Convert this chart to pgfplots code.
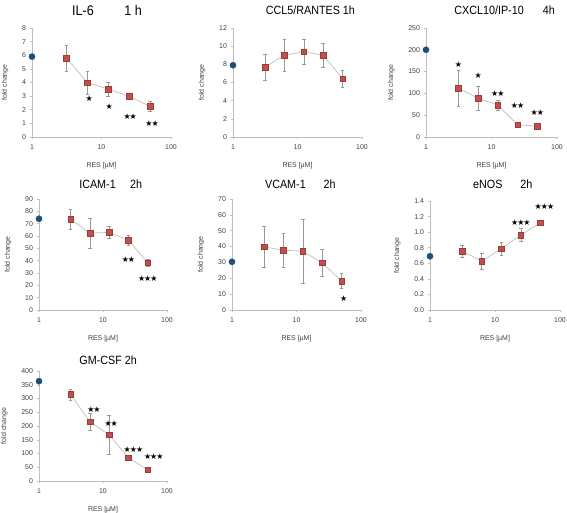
\documentclass[border=0pt]{standalone}
\usepackage{fontspec}
\setmainfont{Liberation Sans}
\newfontfamily\titlefont[FakeStretch=0.9]{Liberation Sans}
\newfontfamily\symfont{DejaVu Sans}
\usepackage{pgfplots}
\pgfplotsset{compat=1.18}
\definecolor{redsq}{HTML}{C0504D}
\definecolor{redbd}{HTML}{9E3A37}
\definecolor{bluec}{HTML}{1F4E79}
\definecolor{axgray}{HTML}{BFBFBF}
\definecolor{txtgray}{HTML}{404040}
\definecolor{lngray}{HTML}{C4C4C4}
\pgfplotsset{
 every axis title/.style={font=\titlefont\fontsize{12}{14}\selectfont, anchor=base},
 every axis/.append style={
  scale only axis,
  xmin=1, xmax=100,
  xtick={1,10,100}, xticklabels={1,10,100},
  minor xtick={2,3,4,5,6,7,8,9,20,30,40,50,60,70,80,90},
  axis x line*=bottom, axis y line*=left,
  axis line style={axgray, line width=0.6pt},
  tick style={axgray, line width=0.5pt},
  tick align=outside,
  major tick length=2.5pt, minor tick length=1.5pt,
  tick label style={font=\fontsize{7}{8}\selectfont, text=txtgray, /pgf/number format/assume math mode=true},
  xticklabel style={yshift=-2bp},
  xlabel={RES [µM]}, ylabel={fold change},
  label style={font=\fontsize{7}{8}\selectfont, text=txtgray},
  xlabel style={at={(axis description cs:0.5,0)}, anchor=center, yshift=-29bp},
  ylabel style={yshift=7bp},
  clip=false,
  ymin=0,
 },
}
\tikzset{myStars/.style={font=\symfont\fontsize{8}{8}\selectfont, inner sep=0pt, text=black}}
\newcommand{\sone}{★}
\newcommand{\stwo}{★\kern-1pt★}
\newcommand{\sthree}{★\kern-1pt★\kern-1pt★}
\begin{document}
\begin{tikzpicture}
\path[use as bounding box] (0,0) rectangle (567bp,513bp);

% IL-6
\begin{semilogxaxis}[at={(32bp,376bp)}, anchor=south west, width=139bp, height=109bp,
  ymax=8, ytick={0,1,2,3,4,5,6,7,8},
  title={IL-6\hspace{2.2em}1 h}, title style={at={(0.54,1)}, yshift=13bp, font=\titlefont\fontsize{14}{16}\selectfont}]
\addplot[only marks, mark=*, mark size=3.1pt, mark options={fill=bluec, draw=bluec}] coordinates {(1,5.9)};
\addplot[color=lngray, line width=0.8pt, mark=square*, mark size=2.8pt, mark options={fill=redsq, draw=redbd, line width=0.4pt},
   error bars/.cd, y dir=both, y explicit, error bar style={gray!80, line width=0.5pt},
   error mark options={rotate=90, gray!80, mark size=1.8pt, line width=0.5pt}]
 table[x=x,y=y,y error=e] {
x y e
3.125 5.8 0.95
6.25 4.0 0.85
12.5 3.52 0.52
25 2.98 0.15
50 2.25 0.35
};
\node[myStars, xshift=2bp] at (axis cs:6.25,2.8) {\sone};
\node[myStars, xshift=1bp] at (axis cs:12.5,2.25) {\sone};
\node[myStars, xshift=1bp] at (axis cs:25,1.5) {\stwo};
\node[myStars, xshift=2bp] at (axis cs:50,1.0) {\stwo};
\end{semilogxaxis}

% CCL5
\begin{semilogxaxis}[at={(233bp,376bp)}, anchor=south west, width=129bp, height=109bp,
  ymax=12, ytick={0,2,4,6,8,10,12},
  title={CCL5/RANTES 1h}, title style={at={(0.6,1)}, yshift=13bp}]
\addplot[only marks, mark=*, mark size=3.1pt, mark options={fill=bluec, draw=bluec}] coordinates {(1,7.9)};
\addplot[color=lngray, line width=0.8pt, mark=square*, mark size=2.8pt, mark options={fill=redsq, draw=redbd, line width=0.4pt},
   error bars/.cd, y dir=both, y explicit, error bar style={gray!80, line width=0.5pt},
   error mark options={rotate=90, gray!80, mark size=1.8pt, line width=0.5pt}]
 table[x=x,y=y,y error=e] {
x y e
3.125 7.67 1.45
6.25 9.0 1.75
12.5 9.39 1.35
25 9.0 1.35
50 6.42 0.95
};
\end{semilogxaxis}

% CXCL10
\begin{semilogxaxis}[at={(426bp,376bp)}, anchor=south west, width=131bp, height=109bp,
  ymax=250, ytick={0,50,100,150,200,250},
  title={CXCL10/IP-10\hspace{1.6em}4h}, title style={at={(0.6,1)}, yshift=13bp}]
\addplot[only marks, mark=*, mark size=3.1pt, mark options={fill=bluec, draw=bluec}] coordinates {(1,200)};
\addplot[color=lngray, line width=0.8pt, mark=square*, mark size=2.8pt, mark options={fill=redsq, draw=redbd, line width=0.4pt},
   error bars/.cd, y dir=both, y explicit, error bar style={gray!80, line width=0.5pt},
   error mark options={rotate=90, gray!80, mark size=1.8pt, line width=0.5pt}]
 table[x=x,y=y,y error=e] {
x y e
3.125 112 42
6.25 89 28
12.5 73 12
25 28 3
50 25 5
};
\node[myStars] at (axis cs:3.125,165) {\sone};
\node[myStars] at (axis cs:6.25,141) {\sone};
\node[myStars] at (axis cs:12.5,100) {\stwo};
\node[myStars] at (axis cs:25,71) {\stwo};
\node[myStars] at (axis cs:50,57) {\stwo};
\end{semilogxaxis}

% ICAM-1
\begin{semilogxaxis}[at={(39bp,203bp)}, anchor=south west, width=128bp, height=111bp,
  ymax=90, ytick={0,10,20,30,40,50,60,70,80,90},
  title={ICAM-1\hspace{1.2em}2h}, title style={at={(0.56,1)}, yshift=10bp}]
\addplot[only marks, mark=*, mark size=3.1pt, mark options={fill=bluec, draw=bluec}] coordinates {(1,74)};
\addplot[color=lngray, line width=0.8pt, mark=square*, mark size=2.8pt, mark options={fill=redsq, draw=redbd, line width=0.4pt},
   error bars/.cd, y dir=both, y explicit, error bar style={gray!80, line width=0.5pt},
   error mark options={rotate=90, gray!80, mark size=1.8pt, line width=0.5pt}]
 table[x=x,y=y,y error=e] {
x y e
3.125 73.5 8
6.25 62.3 12
12.5 62.9 5
25 56.7 4
50 38.2 3
};
\node[myStars] at (axis cs:25,40.7) {\stwo};
\node[myStars] at (axis cs:50,25.8) {\sthree};
\end{semilogxaxis}

% VCAM-1
\begin{semilogxaxis}[at={(232bp,203bp)}, anchor=south west, width=129bp, height=111bp,
  ymax=70, ytick={0,10,20,30,40,50,60,70},
  title={VCAM-1\hspace{1.5em}2h}, title style={at={(0.53,1)}, yshift=10bp}]
\addplot[only marks, mark=*, mark size=3.1pt, mark options={fill=bluec, draw=bluec}] coordinates {(1,30.4)};
\addplot[color=lngray, line width=0.8pt, mark=square*, mark size=2.8pt, mark options={fill=redsq, draw=redbd, line width=0.4pt},
   error bars/.cd, y dir=both, y explicit, error bar style={gray!80, line width=0.5pt},
   error mark options={rotate=90, gray!80, mark size=1.8pt, line width=0.5pt}]
 table[x=x,y=y,y error=e] {
x y e
3.125 39.8 13
6.25 37.7 10.5
12.5 37.1 20
25 29.7 8.5
50 18.3 4.8
};
\node[myStars, xshift=2bp] at (axis cs:50,7.4) {\sone};
\end{semilogxaxis}

% eNOS
\begin{semilogxaxis}[at={(430bp,203bp)}, anchor=south west, width=130bp, height=109bp,
  ymax=1.4, ytick={0,0.2,0.4,0.6,0.8,1.0,1.2,1.4},
  yticklabels={0.0,0.2,0.4,0.6,0.8,1.0,1.2,1.4},
  title={eNOS\hspace{1.5em}2h}, title style={at={(0.56,1)}, yshift=12bp}]
\addplot[only marks, mark=*, mark size=3.1pt, mark options={fill=bluec, draw=bluec}] coordinates {(1,0.69)};
\addplot[color=lngray, line width=0.8pt, mark=square*, mark size=2.8pt, mark options={fill=redsq, draw=redbd, line width=0.4pt},
   error bars/.cd, y dir=both, y explicit, error bar style={gray!80, line width=0.5pt},
   error mark options={rotate=90, gray!80, mark size=1.8pt, line width=0.5pt}]
 table[x=x,y=y,y error=e] {
x y e
3.125 0.758 0.08
6.25 0.625 0.1
12.5 0.788 0.08
25 0.963 0.085
50 1.12 0.02
};
\node[myStars] at (axis cs:25,1.126) {\sthree};
\node[myStars, xshift=4bp] at (axis cs:50,1.33) {\sthree};
\end{semilogxaxis}

% GM-CSF
\begin{semilogxaxis}[at={(39bp,32bp)}, anchor=south west, width=128bp, height=110bp,
  ymax=400, ytick={0,50,100,150,200,250,300,350,400},
  title={GM-CSF 2h}, title style={at={(0.54,1)}, yshift=7bp}]
\addplot[only marks, mark=*, mark size=3.1pt, mark options={fill=bluec, draw=bluec}] coordinates {(1,363)};
\addplot[color=lngray, line width=0.8pt, mark=square*, mark size=2.8pt, mark options={fill=redsq, draw=redbd, line width=0.4pt},
   error bars/.cd, y dir=both, y explicit, error bar style={gray!80, line width=0.5pt},
   error mark options={rotate=90, gray!80, mark size=1.8pt, line width=0.5pt}]
 table[x=x,y=y,y error=e] {
x y e
3.125 315 20
6.25 215 32
12.5 168 70
25 84 8
50 41 5
};
\node[myStars, xshift=4bp] at (axis cs:6.25,258) {\stwo};
\node[myStars, xshift=2bp] at (axis cs:12.5,209) {\stwo};
\node[myStars, xshift=5bp] at (axis cs:25,115) {\sthree};
\node[myStars, xshift=6bp] at (axis cs:50,90) {\sthree};
\end{semilogxaxis}
\end{tikzpicture}
\end{document}
